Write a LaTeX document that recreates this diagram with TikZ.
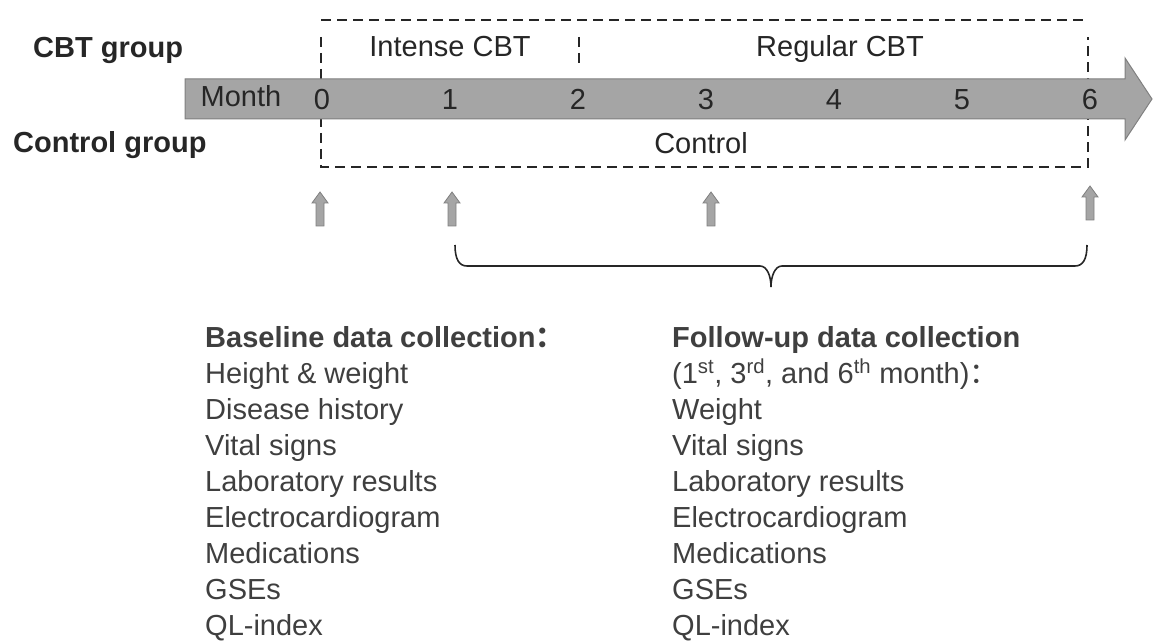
\documentclass[tikz,border=0pt]{standalone}
\usepackage{fontspec}
\setmainfont{Liberation Sans}
\newfontfamily\cjk{Noto Sans CJK SC}
\usepackage{tikz}
\definecolor{grigio}{HTML}{A5A5A5}
\definecolor{bordo}{HTML}{808080}
\definecolor{scuro}{HTML}{262626}
\definecolor{testo}{HTML}{3F3F3F}
\tikzstyle{etichetta} = [inner sep=0pt, text=scuro,
    font=\fontsize{29}{36}\selectfont]
\tikzstyle{gruppo} = [etichetta, anchor=base west,
    font=\fontsize{29}{36}\selectfont\bfseries]
\tikzstyle{mese} = [etichetta, anchor=base]
\tikzstyle{voce} = [etichetta, anchor=base west, text=testo]
\tikzstyle{titolo} = [voce, font=\fontsize{29}{36}\selectfont\bfseries]
\tikzstyle{tratto} = [draw=scuro, line width=1.8pt, dash pattern=on 10pt off 6pt]
\tikzstyle{banda} = [fill=grigio, draw=bordo, line width=1pt]
\tikzstyle{freccina} = [fill=grigio, draw=bordo, line width=0.8pt]

\begin{document}
\begin{tikzpicture}[x=1pt,y=-1pt]
  \useasboundingbox (0,0) rectangle (1153,644);
  % riquadro
  \draw[tratto] (321,20) -- (1088,20);
  \draw[tratto] (321,37) -- (321,167) -- (1088,167) -- (1088,37);
  \draw[tratto] (579,37) -- (579,65);
  % asse dei mesi
  \filldraw[banda] (185,79) -- (1125,79) -- (1125,58) -- (1152,99)
    -- (1125,140) -- (1125,119) -- (185,119) -- cycle;
  \node[gruppo] (cbt) at (33,58) {CBT group};
  \node[gruppo] (ctrl) at (13,153) {Control group};
  \node[mese] (intense) at (450,57) {Intense CBT};
  \node[mese] (regular) at (840,57) {Regular CBT};
  \node[mese] (control) at (701,154) {Control};
  \node[mese] (month) at (241,107) {Month};
  \foreach \m in {0,...,6}
    \node[mese] (m\m) at (322+128*\m,110) {\m};
  % rilevazioni
  \foreach \x/\y in {320/226,452/226,711/226,1090/220}
    \filldraw[freccina] (\x-4,\y) -- (\x-4,\y-23) -- (\x-8,\y-23) -- (\x,\y-34)
      -- (\x+8,\y-23) -- (\x+4,\y-23) -- (\x+4,\y) -- cycle;
  \coordinate (graffa1) at (455,245);
  \coordinate (graffa2) at (1087,245);
  \coordinate (punta) at (771,287);
  \draw[scuro, line width=1.6pt] (graffa1) .. controls +(0,14) and +(-8,0) .. (467,266)
    -- (760,266) .. controls (767,266) and (771,276) .. (punta)
    .. controls (771,276) and (775,266) .. (782,266)
    -- (1075,266) .. controls +(8,0) and +(0,14) .. (graffa2);
  % dati raccolti
  \node[titolo] (base0) at (205,347) {Baseline data collection{\cjk ：}};
  \foreach \riga [count=\i] in {Height \& weight, Disease history, Vital signs,
      Laboratory results, Electrocardiogram, Medications, GSEs, QL-index}
    \node[voce] (base\i) at (205,347+36*\i) {\riga};
  \node[titolo] (segui0) at (672,347) {Follow-up data collection};
  \node[voce] (segui1) at (672,383) {(1\textsuperscript{st}, 3\textsuperscript{rd},
    and 6\textsuperscript{th} month){\cjk ：}};
  \foreach \riga [count=\i from 2] in {Weight, Vital signs, Laboratory results,
      Electrocardiogram, Medications, GSEs, QL-index}
    \node[voce] (segui\i) at (672,347+36*\i) {\riga};
\end{tikzpicture}
\end{document}
